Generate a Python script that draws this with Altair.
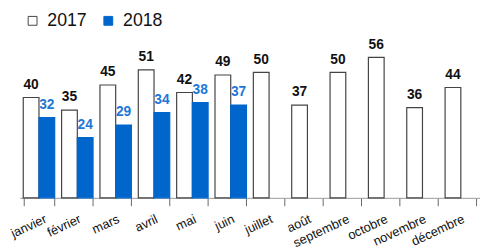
import altair as alt
import pandas as pd

months = ["janvier", "février", "mars", "avril", "mai", "juin", "juillet",
          "août", "septembre", "octobre", "novembre", "décembre"]
years = ["2017", "2018"]
v2017 = [40, 35, 45, 51, 42, 49, 50, 37, 50, 56, 36, 44]
v2018 = [32, 24, 29, 34, 38, 37]

rows = []
for m, v in zip(months, v2017):
    rows.append({"month": m, "year": "2017", "value": v})
for m, v in zip(months, v2018):
    rows.append({"month": m, "year": "2018", "value": v})
df = pd.DataFrame(rows)

BLUE = "#0066cc"
LBLUE = "#1f78d6"

x = alt.X(
    "month:N", sort=months,
    scale=alt.Scale(paddingInner=0.18, paddingOuter=0.09),
    axis=alt.Axis(
        title=None, labelAngle=-25, labelAlign="right", labelBaseline="top",
        tickBand="extent", tickSize=8, tickColor="#666666", tickWidth=1,
        domainColor="#999999", domainWidth=1, labelFont="Liberation Sans",
        labelFontSize=13, labelColor="#111111", labelPadding=7,
        labelOffset={"condition": {"test": "datum.value === 'janvier'", "value": 4}, "value": 0},
    ),
)
xo = alt.XOffset("year:N", scale=alt.Scale(domain=years, paddingInner=0, paddingOuter=0))
y = alt.Y("value:Q", scale=alt.Scale(domain=[0, 60]), axis=None)

bars = alt.Chart(df).mark_bar(strokeWidth=1.2).encode(
    x=x, xOffset=xo, y=y,
    fill=alt.Fill("year:N", scale=alt.Scale(domain=years, range=["white", BLUE]),
                  legend=alt.Legend(title=None)),
    stroke=alt.Stroke("year:N", scale=alt.Scale(domain=years, range=["#444444", BLUE]),
                      legend=alt.Legend(title=None)),
)

labels17 = alt.Chart(df).transform_filter(alt.datum.year == "2017").mark_text(
    font="Liberation Sans Narrow, Liberation Sans", fontWeight="bold", fontSize=14,
    color="#111111", baseline="alphabetic", dy=-9,
).encode(x=x, xOffset=xo, y=y, text="value:Q")

labels18 = alt.Chart(df).transform_filter(alt.datum.year == "2018").mark_text(
    font="Liberation Sans Narrow, Liberation Sans", fontWeight="bold", fontSize=14,
    color=LBLUE, baseline="alphabetic", dy=-9,
).encode(x=x, xOffset=xo, y=y, text="value:Q")

chart = alt.layer(bars, labels17, labels18).properties(
    width=468, height=153,
    autosize=alt.AutoSizeParams(type="none"),
    padding={"left": 12, "top": 38, "right": 0, "bottom": 51},
).configure_view(stroke=None).configure_legend(
    orient="none", legendX=4, legendY=-36, direction="horizontal",
    symbolType="square", symbolSize=81, symbolStrokeWidth=1,
    labelFont="Liberation Sans", labelFontSize=18, labelColor="#111111",
    columnPadding=12, labelOffset=6, padding=0,
)

chart.save("out.html", embed_options={"renderer": "svg", "actions": False})
